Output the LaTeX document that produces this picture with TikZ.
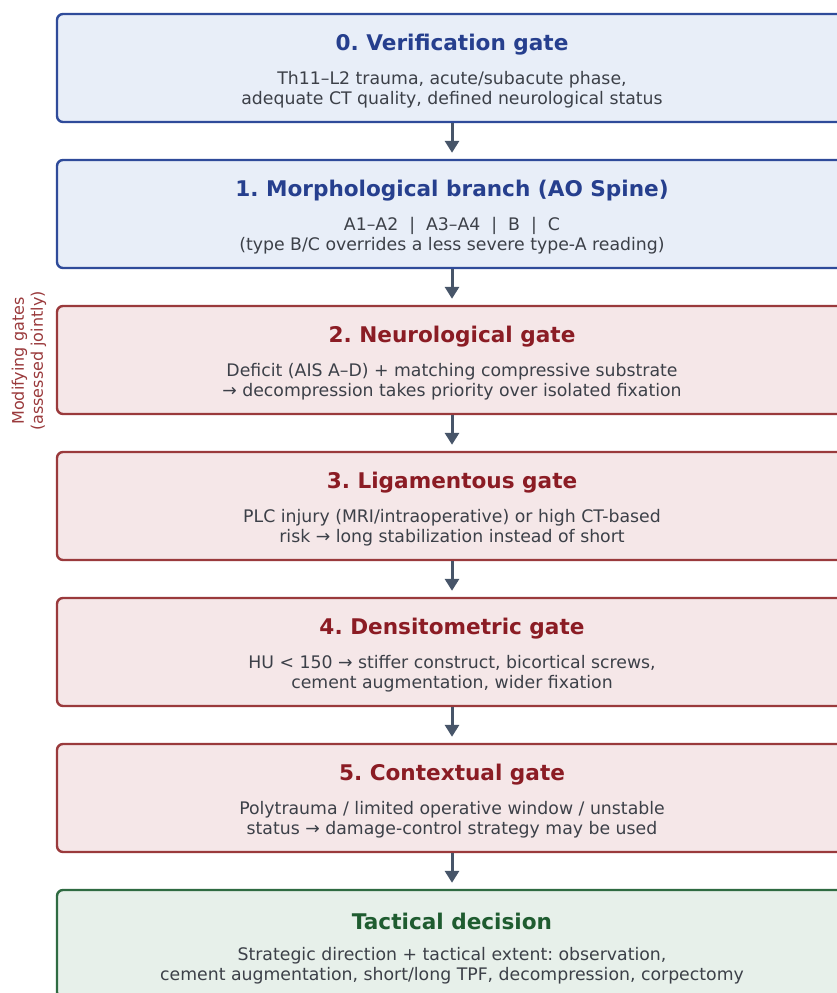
\documentclass[tikz,border=0pt]{standalone}
\usepackage{fontspec}
\setmainfont{DejaVu Sans}
\usetikzlibrary{arrows.meta}
\frenchspacing

\definecolor{bluefill}{HTML}{E8EEF8}
\definecolor{blueline}{HTML}{2F4B9A}
\definecolor{bluetitle}{HTML}{263F8E}
\definecolor{redfill}{HTML}{F5E7E8}
\definecolor{redline}{HTML}{9A3A3C}
\definecolor{redtitle}{HTML}{8B1C24}
\definecolor{greenfill}{HTML}{E7F0EA}
\definecolor{greenline}{HTML}{2F6B42}
\definecolor{greentitle}{HTML}{1F5C30}
\definecolor{bodytext}{HTML}{3C4048}
\definecolor{arrowcol}{HTML}{475569}

\tikzset{
    gatebox/.style={draw, line width=2.4pt, rounded corners=6pt,
        minimum width=790pt, minimum height=108pt, inner sep=0pt},
    bluegate/.style={gatebox, draw=blueline, fill=bluefill},
    redgate/.style={gatebox, draw=redline, fill=redfill},
    greengate/.style={gatebox, draw=greenline, fill=greenfill},
    gatetitle/.style={font=\fontsize{21.6}{25}\selectfont\bfseries, inner sep=0pt},
    gatebody/.style={font=\fontsize{17.3}{20}\selectfont, text=bodytext,
        align=center, inner sep=0pt},
    flow/.style={draw=arrowcol, line width=3pt, shorten >=6pt,
        -{Triangle[length=12pt,width=14pt]}}
}

\begin{document}
\begin{tikzpicture}[x=1pt, y=-1pt]
        \useasboundingbox (0,0) rectangle (836,993);

        % Gate boxes
        \node[bluegate] (G0) at (452,68) {};
        \node[bluegate] (G1) at (452,214) {};
        \node[redgate] (G2) at (452,360) {};
        \node[redgate] (G3) at (452,506) {};
        \node[redgate] (G4) at (452,652) {};
        \node[redgate] (G5) at (452,798) {};
        \node[greengate] (G6) at (452,944) {};

        % Titles
        \node[gatetitle, text=bluetitle] (T0) at (452,45) {0. Verification gate};
        \node[gatetitle, text=bluetitle] (T1) at (452,191) {1. Morphological branch (AO Spine)};
        \node[gatetitle, text=redtitle] (T2) at (452,337) {2. Neurological gate};
        \node[gatetitle, text=redtitle] (T3) at (452,483) {3. Ligamentous gate};
        \node[gatetitle, text=redtitle] (T4) at (452,629) {4. Densitometric gate};
        \node[gatetitle, text=redtitle] (T5) at (452,775) {5. Contextual gate};
        \node[gatetitle, text=greentitle] (T6) at (452,921) {Tactical decision};

        % Descriptions
        \node[gatebody] (B0) at (452,89.5) {Th11–L2 trauma, acute/subacute phase,\\adequate CT quality, defined neurological status};
        \node[gatebody] (B1) at (452,235.5) {A1–A2 \ | \ A3–A4 \ | \ B \ | \ C\\(type B/C overrides a less severe type-A reading)};
        \node[gatebody] (B2) at (452,381.5) {Deficit (AIS A–D) + matching compressive substrate\\→ decompression takes priority over isolated fixation};
        \node[gatebody] (B3) at (452,527.5) {PLC injury (MRI/intraoperative) or high CT-based\\risk → long stabilization instead of short};
        \node[gatebody] (B4) at (452,673.5) {HU < 150 → stiffer construct, bicortical screws,\\cement augmentation, wider fixation};
        \node[gatebody] (B5) at (452,819.5) {Polytrauma / limited operative window / unstable\\status → damage-control strategy may be used};
        \node[gatebody] (B6) at (452,965.5) {Strategic direction + tactical extent: observation,\\cement augmentation, short/long TPF, decompression, corpectomy};

        % Side label for the modifying gates
        \node[rotate=90, text=redline, align=center,
            font=\fontsize{16}{19}\selectfont] (side) at (29,361)
            {Modifying gates\\(assessed jointly)};

        % Flow arrows
        \draw[flow] (G0) -- (G1);
        \draw[flow] (G1) -- (G2);
        \draw[flow] (G2) -- (G3);
        \draw[flow] (G3) -- (G4);
        \draw[flow] (G4) -- (G5);
        \draw[flow] (G5) -- (G6);

\end{tikzpicture}
\end{document}
